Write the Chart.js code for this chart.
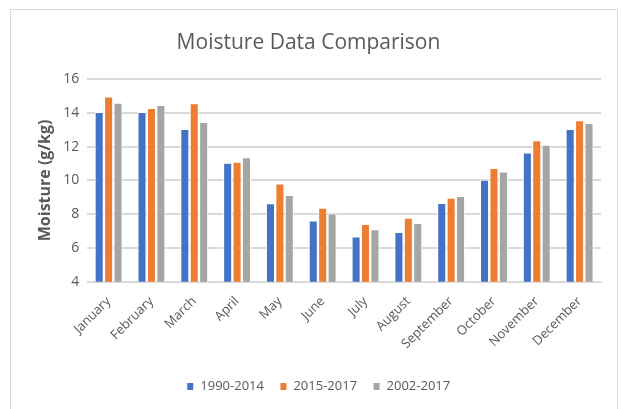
<!DOCTYPE html>
<html>
<head>
<meta charset="utf-8">
<script src="https://cdn.jsdelivr.net/npm/chart.js@4/dist/chart.umd.min.js"></script>
<style>
  html, body { margin: 0; padding: 0; background: #fff; }
  #frame { position: absolute; left: 10px; top: 9px; width: 608px; height: 420px; border: 1px solid #d9d9d9; box-sizing: border-box; }
  #wrap { position: absolute; left: 0; top: 0; width: 621px; height: 409px; }
</style>
</head>
<body>
<div id="frame"></div>
<div id="wrap"><canvas id="c" width="621" height="409"></canvas></div>
<script>
const categories = ["January","February","March","April","May","June","July","August","September","October","November","December"];
const series1990_2014 = [14.05, 14.05, 13.05, 11.05, 8.65, 7.63, 6.67, 6.94, 8.66, 10.04, 11.65, 13.05];
const series2015_2017 = [14.97, 14.3, 14.57, 11.1, 9.82, 8.38, 7.41, 7.79, 8.97, 10.73, 12.38, 13.57];
const series2002_2017 = [14.6, 14.47, 13.47, 11.38, 9.13, 8.04, 7.1, 7.47, 9.07, 10.53, 12.12, 13.41];
const yTicks = [4, 6, 8, 10, 12, 14, 16];

const fontFam = "'Open Sans', 'Liberation Sans', sans-serif";
const textColor = "#595959";

const legendShift = {
  id: 'legendShift',
  afterLayout(chart) {
    if (chart.legend) { chart.legend.left += 10; chart.legend.right += 10; }
  }
};

new Chart(document.getElementById('c'), {
  type: 'bar',
  data: {
    labels: categories,
    datasets: [
      { label: '1990-2014', data: series1990_2014, backgroundColor: '#4472C4', borderColor: '#ffffff', borderWidth: 1 },
      { label: '2015-2017', data: series2015_2017, backgroundColor: '#ED7D31', borderColor: '#ffffff', borderWidth: 1 },
      { label: '2002-2017', data: series2002_2017, backgroundColor: '#A5A5A5', borderColor: '#ffffff', borderWidth: 1 }
    ]
  },
  plugins: [legendShift],
  options: {
    responsive: false,
    animation: false,
    devicePixelRatio: 1,
    datasets: { bar: { categoryPercentage: 0.66, barPercentage: 0.96 } },
    layout: { padding: { left: 16, right: 20, top: 20, bottom: 6 } },
    plugins: {
      title: {
        display: true,
        text: 'Moisture Data Comparison',
        color: textColor,
        font: { family: fontFam, size: 21, weight: 'normal' },
        padding: { top: 10, bottom: 24 }
      },
      legend: {
        position: 'bottom',
        labels: {
          color: textColor,
          font: { family: fontFam, size: 13 },
          boxWidth: 7, boxHeight: 8, padding: 16
        }
      },
      tooltip: { enabled: false }
    },
    scales: {
      x: {
        grid: { display: false, drawTicks: false },
        border: { display: true, color: '#d9d9d9' },
        ticks: {
          color: textColor,
          font: { family: fontFam, size: 13 },
          minRotation: 45, maxRotation: 45, padding: 12, autoSkip: false
        }
      },
      y: {
        min: yTicks[0],
        max: yTicks[yTicks.length - 1],
        afterBuildTicks: (axis) => { axis.ticks = yTicks.map(v => ({ value: v })); },
        grid: { color: '#d9d9d9', lineWidth: 2, drawTicks: false },
        border: { display: false },
        ticks: { color: textColor, font: { family: fontFam, size: 14 }, padding: 8 },
        title: {
          display: true,
          text: 'Moisture (g/kg)',
          color: textColor,
          font: { family: fontFam, size: 16, weight: 'bold' },
          padding: { top: 20, bottom: 0 }
        }
      }
    }
  }
});
</script>
</body>
</html>
